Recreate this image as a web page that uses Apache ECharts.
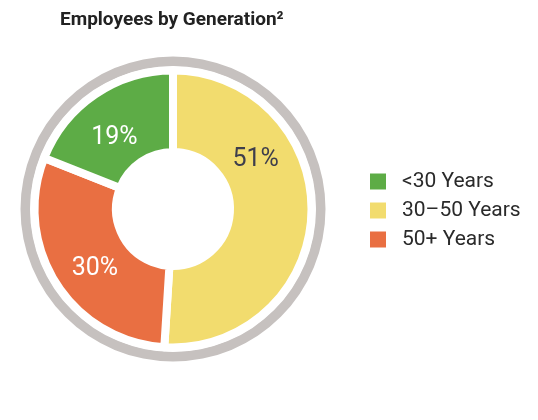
<!DOCTYPE html>
<html>
<head>
<meta charset="utf-8">
<script src="https://cdn.jsdelivr.net/npm/echarts@6/dist/echarts.min.js"></script>
<style>
  html, body { margin: 0; padding: 0; background: #ffffff; }
  #chart { width: 538px; height: 420px; }
</style>
</head>
<body>
<div id="chart"></div>
<script>
// Workforce split by age band (percent of employees)
const categories = ['<30 Years', '30–50 Years', '50+ Years'];
const shares = [19, 51, 30];
const colors = ['#5dac46', '#f2dc6e', '#e96f42'];
const labelColors = ['#ffffff', '#3e3e4c', '#ffffff'];

// Slices are drawn clockwise from 12 o'clock: 30–50, then 50+, then <30
const drawOrder = [1, 2, 0];

// Small nudges so each percentage sits where it reads best in its slice
const labelNudges = [[-18, -52], [7, 6], [-2, 12]];

const pieData = drawOrder.map(i => ({
  name: categories[i],
  value: shares[i],
  itemStyle: { color: colors[i] },
  label: { color: labelColors[i] }
}));

const center = [173, 209];

const chart = echarts.init(document.getElementById('chart'), null, { renderer: 'canvas' });
chart.setOption({
  animation: false,
  backgroundColor: '#ffffff',
  title: {
    text: 'Employees by Generation²',
    left: 55,
    top: 6,
    textStyle: {
      fontFamily: 'Roboto',
      fontWeight: 'bold',
      fontSize: 19,
      color: '#222222'
    }
  },
  legend: {
    orient: 'vertical',
    left: 363,
    top: 166,
    itemWidth: 18,
    itemHeight: 18,
    itemGap: 8,
    icon: 'rect',
    data: categories,
    selectedMode: false,
    textStyle: {
      fontFamily: 'Roboto',
      fontSize: 21,
      lineHeight: 18,
      color: '#2a2a2a',
      padding: [0, 0, 0, 10]
    }
  },
  series: [
    {
      // grey outer ring
      type: 'pie',
      silent: true,
      center: center,
      radius: [143, 152.5],
      startAngle: 90,
      label: { show: false },
      labelLine: { show: false },
      tooltip: { show: false },
      data: [{ value: 1, name: 'ring', itemStyle: { color: '#c6c1bf' } }],
      legendHoverLink: false
    },
    {
      type: 'pie',
      center: center,
      radius: [57, 138.5],
      startAngle: 90,
      clockwise: true,
      avoidLabelOverlap: false,
      itemStyle: { borderColor: '#ffffff', borderWidth: 8 },
      label: {
        show: true,
        position: 'inside',
        formatter: '{c}%',
        fontFamily: 'Roboto',
        fontSize: 25,
        fontWeight: 'normal'
      },
      labelLine: { show: false },
      labelLayout: function (params) {
        const n = labelNudges[params.dataIndex];
        return { dx: n[0], dy: n[1] };
      },
      data: pieData
    }
  ]
});
</script>
</body>
</html>
